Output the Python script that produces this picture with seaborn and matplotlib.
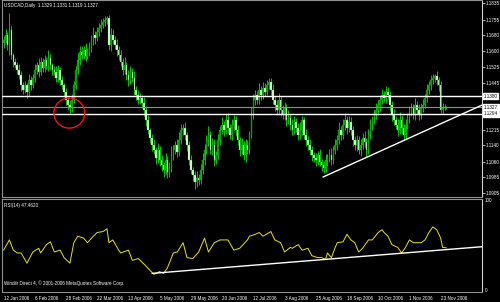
import numpy as np
import pandas as pd
import matplotlib
matplotlib.use("Agg")
import matplotlib.pyplot as plt
import seaborn as sns
from matplotlib.patches import Ellipse

# ---------------- data (prices in pips: 11655 -> 1.1655) ----------------
close_pips = [
    11655, 11680, 11631, 11704, 11582, 11548, 11533, 11509, 11484, 11435,
    11411, 11435, 11401, 11460, 11435, 11469, 11509, 11533, 11499, 11548,
    11518, 11557, 11528, 11567, 11533, 11509, 11499, 11469, 11509, 11460,
    11435, 11401, 11362, 11337, 11323, 11362, 11435, 11509, 11557, 11597,
    11582, 11606, 11577, 11597, 11616, 11655, 11680, 11665, 11694, 11714,
    11729, 11743, 11753, 11763, 11631, 11680, 11655, 11631, 11606, 11582,
    11548, 11509, 11533, 11484, 11460, 11499, 11469, 11411, 11386, 11362,
    11372, 11347, 11313, 11264, 11215, 11176, 11142, 11117, 11078, 11117,
    11068, 11044, 11020, 11068, 11010, 11029, 11093, 11117, 11142, 11108,
    11166, 11215, 11225, 11191, 11142, 11068, 11020, 10995, 10961, 10980,
    10971, 11020, 11068, 11117, 11166, 11191, 11117, 11142, 11068, 11093,
    11166, 11215, 11240, 11215, 11264, 11225, 11191, 11240, 11264, 11215,
    11166, 11117, 11142, 11093, 11142, 11117, 11191, 11289, 11362, 11386,
    11362, 11411, 11386, 11421, 11401, 11435, 11450, 11411, 11362, 11337,
    11313, 11362, 11313, 11289, 11323, 11264, 11274, 11240, 11215, 11254,
    11225, 11191, 11215, 11264, 11191, 11166, 11142, 11117, 11093, 11078,
    11068, 11093, 11059, 11044, 11029, 11068, 11078, 11093, 11068, 11117,
    11142, 11166, 11215, 11191, 11240, 11264, 11225, 11254, 11215, 11166,
    11142, 11166, 11117, 11142, 11176, 11157, 11117, 11191, 11240, 11264,
    11289, 11313, 11337, 11362, 11386, 11372, 11401, 11386, 11337, 11289,
    11264, 11240, 11215, 11264, 11225, 11191, 11240, 11274, 11303, 11323,
    11289, 11337, 11313, 11289, 11323, 11337, 11372, 11411, 11435, 11460,
    11469, 11479, 11460, 11435, 11313, 11323, 11329, 11327,
]
first_open_pips = 11640
hi_ext = [
    18, 30, 15, 83, 22, 12, 21, 15, 27, 18,
    15, 22, 12, 30, 18, 21, 27, 15, 33, 22,
    18, 27, 15, 37, 21, 12, 18, 30, 22, 15,
    18, 12, 21, 15, 27, 30, 22, 18, 37, 30,
    27, 22, 33, 21, 30, 24, 37, 18, 27, 22,
    30, 21, 18, 10, 15, 33, 27, 18, 30, 21,
    24, 18, 37, 15, 27, 30, 21, 33, 18, 27,
    22, 15, 30, 18, 24, 12, 21, 30, 15, 37,
    18, 27, 15, 33, 21, 30, 45, 24, 18, 27,
    37, 30, 21, 27, 15, 18, 24, 15, 21, 33,
    18, 27, 37, 30, 24, 45, 21, 33, 27, 18,
    30, 22, 37, 18, 27, 33, 21, 30, 24, 18,
    27, 15, 33, 21, 30, 24, 18, 37, 30, 27,
    21, 33, 18, 30, 24, 27, 19, 21, 30, 18,
    27, 33, 21, 24, 30, 18, 37, 21, 27, 30,
    18, 24, 37, 21, 15, 27, 18, 30, 21, 15,
    24, 18, 27, 15, 21, 30, 18, 27, 33, 21,
    30, 24, 37, 21, 27, 33, 18, 30, 24, 21,
    18, 27, 21, 30, 24, 33, 18, 27, 30, 21,
    24, 33, 27, 21, 30, 18, 27, 24, 21, 18,
    27, 21, 30, 37, 24, 18, 27, 21, 30, 24,
    18, 33, 21, 27, 24, 30, 21, 27, 18, 24,
    21, 12, 27, 15, 18, 24, 15, 2,
]
lo_ext = [
    22, 15, 27, 49, 18, 24, 15, 21, 18, 30,
    21, 15, 27, 18, 24, 15, 21, 18, 24, 15,
    21, 18, 15, 24, 18, 27, 15, 21, 18, 24,
    18, 21, 27, 24, 25, 18, 15, 21, 18, 24,
    21, 18, 24, 15, 21, 18, 24, 27, 15, 21,
    18, 15, 21, 18, 24, 30, 21, 18, 27, 24,
    21, 27, 18, 24, 30, 21, 18, 27, 24, 21,
    18, 24, 30, 27, 21, 24, 30, 18, 27, 24,
    30, 27, 37, 21, 30, 24, 18, 27, 21, 24,
    21, 18, 24, 27, 30, 24, 21, 30, 34, 24,
    27, 21, 18, 24, 21, 27, 18, 24, 30, 21,
    18, 24, 21, 27, 18, 24, 21, 27, 24, 30,
    24, 27, 21, 24, 33, 21, 18, 15, 21, 24,
    18, 21, 24, 18, 21, 15, 18, 24, 21, 27,
    24, 21, 27, 18, 24, 30, 21, 27, 24, 18,
    21, 27, 18, 24, 21, 30, 27, 24, 30, 21,
    27, 24, 21, 30, 24, 18, 27, 21, 24, 18,
    21, 24, 18, 27, 21, 24, 30, 18, 24, 27,
    24, 30, 21, 27, 18, 24, 30, 21, 18, 24,
    21, 18, 24, 27, 21, 18, 24, 21, 27, 30,
    24, 18, 30, 21, 27, 24, 18, 21, 24, 18,
    21, 27, 18, 24, 21, 18, 15, 21, 18, 24,
    18, 21, 24, 27, 15, 18, 12, 8,
]

rsi_idx = [0, 3, 5, 7, 9, 12, 15, 18, 19, 22, 24, 26, 29, 31, 34, 36, 38, 41, 43, 46,
           48, 51, 53, 54, 56, 59, 60, 64, 66, 69, 72, 77, 80, 82, 84, 87, 89, 92, 94, 97,
           100, 103, 105, 108, 111, 115, 118, 121, 125, 126, 129, 131, 133, 137, 139, 142,
           144, 147, 148, 151, 153, 156, 158, 161, 163, 165, 166, 168, 170, 171, 174, 176,
           178, 180, 182, 184, 187, 189, 192, 194, 195, 197, 199, 202, 204, 206, 208, 210,
           214, 216, 218, 220, 222, 224, 225, 227]
rsi_val = [45, 56, 45, 42, 42, 31, 43, 47, 42, 51, 54, 43, 45, 37, 31, 53, 60, 58, 53, 60,
           64, 65, 68, 53, 56, 45, 42, 45, 34, 36, 30, 19, 22, 20, 26, 42, 43, 53, 37, 36,
           43, 58, 43, 53, 56, 56, 45, 47, 56, 60, 62, 64, 60, 65, 56, 53,
           43, 48, 47, 51, 45, 47, 39, 37, 37, 35, 42, 37, 48, 53, 54, 62,
           56, 53, 43, 47, 56, 56, 64, 67, 64, 60, 51, 48, 42, 48, 56, 53,
           53, 56, 64, 70, 67, 58, 48, 47.46]

date_labels = ["12 Jan 2006", "6 Feb 2006", "28 Feb 2006", "22 Mar 2006", "13 Apr 2006",
               "5 May 2006", "29 May 2006", "20 Jun 2006", "12 Jul 2006", "3 Aug 2006",
               "25 Aug 2006", "18 Sep 2006", "10 Oct 2006", "1 Nov 2006", "23 Nov 2006"]
date_pos = [0, 16, 32, 48, 64, 80, 96, 112, 128, 144, 160, 176, 192, 208, 224]

price_ticks = [1.1835, 1.1755, 1.1680, 1.1600, 1.1525, 1.1445,
               1.1215, 1.1140, 1.1060, 1.0985, 1.0905]
hlines_white = [1.1380, 1.1294]
bid_price = 1.1327
trend_price_x = [163.7, 245.2]
trend_price_y = [1.0985, 1.1337]
trend_rsi_x = [76.1, 245.2]
trend_rsi_y = [20.0, 48.7]
circle_center = (33.7, 1.1298)

# ---------------- derived OHLC ----------------
closes = np.array(close_pips) / 10000.0
opens = np.r_[first_open_pips / 10000.0, closes[:-1]]
highs = np.maximum(opens, closes) + np.array(hi_ext) / 10000.0
lows = np.minimum(opens, closes) - np.array(lo_ext) / 10000.0
idx = np.arange(len(closes))
df = pd.DataFrame({"i": idx, "o": opens, "h": highs, "l": lows, "c": closes})

# ---------------- style ----------------
sns.set_style("dark", rc={"axes.facecolor": "black", "figure.facecolor": "black"})
plt.rcParams["font.family"] = ["Liberation Sans", "DejaVu Sans"]
FS = 3.3

W, H = 500, 302
fig = plt.figure(figsize=(W / 100, H / 100), dpi=100)
fig.patch.set_facecolor("black")
ax = fig.add_axes([2 / W, 1 - 197 / H, 480 / W, 197 / H])
ax2 = fig.add_axes([2 / W, 1 - 292 / H, 480 / W, 93 / H])

XL = (-0.8, 245.2)
for a in (ax, ax2):
    a.set_facecolor("black")
    a.set_xlim(*XL)
    a.grid(False)
    for s in a.spines.values():
        s.set_color("#909090")
        s.set_linewidth(0.8)
    a.spines["right"].set_color("#d0d0d0")

# candles
ax.vlines(df["i"], df["l"], df["h"], color="#00e600", linewidth=0.6, zorder=2)
up = df[df["c"] >= df["o"]]
dn = df[df["c"] < df["o"]]
ax.bar(up["i"], np.maximum(up["c"] - up["o"], 0.0002), bottom=up["o"], width=0.8,
       color="#009a00", edgecolor="#00d000", linewidth=0.2, zorder=3)
ax.bar(dn["i"], dn["o"] - dn["c"], bottom=dn["c"], width=0.8,
       color="#e8ffe8", edgecolor="#00d000", linewidth=0.2, zorder=3)

ax.set_ylim(1.08875, 1.18509)
for p in hlines_white:
    ax.axhline(p, color="white", linewidth=1.0, zorder=4)
ax.axhline(bid_price, color="#8c8c9c", linewidth=0.8, zorder=4)
sns.lineplot(x=trend_price_x, y=trend_price_y, ax=ax, color="white", linewidth=1.0, zorder=5)
ax.add_patch(Ellipse(circle_center, width=15.8, height=0.0147, fill=False,
                     edgecolor="#ff1010", linewidth=1.0, zorder=6))

ax.yaxis.tick_right()
ax.set_yticks(price_ticks)
ax.set_yticklabels([f"{v:.4f}" for v in price_ticks])
ax.tick_params(axis="y", colors="white", labelsize=FS, length=2, width=0.5, pad=1.0)
ax.set_xticks([])
ax.set_xlabel("")
ax.set_ylabel("")

for p in hlines_white + [bid_price]:
    ax.text(1.004, p, f"{p:.4f}", transform=ax.get_yaxis_transform(), fontsize=FS,
            color="black", va="center", ha="left",
            bbox=dict(boxstyle="square,pad=0.12", facecolor="white", edgecolor="white"))

# RSI
sns.lineplot(x=rsi_idx, y=rsi_val, ax=ax2, color="#e6e600", linewidth=0.7)
sns.lineplot(x=trend_rsi_x, y=trend_rsi_y, ax=ax2, color="white", linewidth=1.0)
ax2.set_ylim(0, 100)
ax2.set_yticks([])
ax2.set_ylabel("")
ax2.set_xticks(date_pos)
ax2.set_xticklabels(date_labels, ha="left")
ax2.tick_params(axis="x", colors="white", labelsize=FS, length=2, width=0.5, pad=1.0)
ax2.set_xlabel("")

fig.text(485 / W, 1 - 201 / H, "100", color="white", fontsize=FS, va="center")
fig.text(485 / W, 1 - 290 / H, "0", color="white", fontsize=FS, va="center")

fig.text(4 / W, 1 - 5 / H, "USDCAD,Daily  1.1329 1.1331 1.1319 1.1327", color="white",
         fontsize=FS, va="center")
fig.text(4 / W, 1 - 205 / H, "RSI(14) 47.4620", color="white", fontsize=FS, va="center")
fig.text(4 / W, 1 - 283 / H, "Windiir Direct 4, \u00a9 2001-2006 MetaQuotes Software Corp.",
         color="white", fontsize=FS, va="center")

fig.savefig("out.png", dpi=100, facecolor="black")
